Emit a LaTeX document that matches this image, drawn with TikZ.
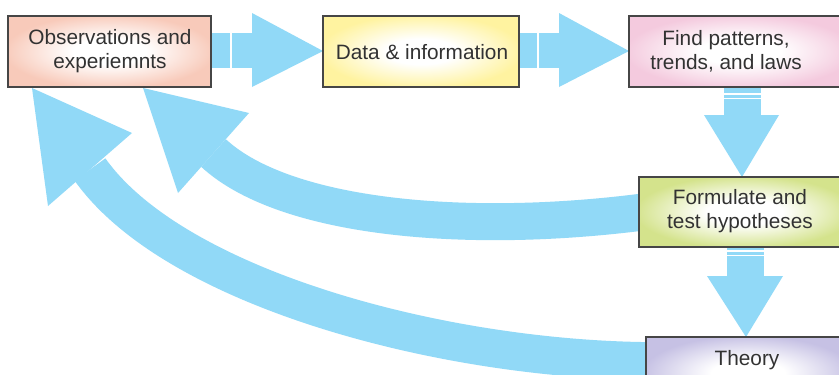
\documentclass[tikz,border=0pt]{standalone}
\usepackage{fontspec}
\setmainfont{Liberation Sans}
\definecolor{arrowblue}{RGB}{145,217,247}
\definecolor{boxline}{RGB}{70,70,70}
\definecolor{textgray}{RGB}{50,50,50}
\definecolor{cobs}{RGB}{248,202,186}
\definecolor{cdata}{RGB}{255,243,160}
\definecolor{cfind}{RGB}{244,202,222}
\definecolor{cform}{RGB}{212,227,140}
\definecolor{ctheory}{RGB}{198,193,228}
\colorlet{boxouter}{cobs}
\pgfdeclareradialshading[boxouter]{boxshade}{\pgfpoint{0bp}{0bp}}{color(0bp)=(white); color(9bp)=(white); color(26bp)=(boxouter); color(50bp)=(boxouter)}
\begin{document}
\begin{tikzpicture}[x=1pt,y=-1pt,
  box/.style={draw=boxline, line width=1.5pt, /utils/exec={\colorlet{boxouter}{#1}}, shading=boxshade, rectangle, inner sep=0pt},
  lbl/.style={font=\fontsize{20.8}{24}\selectfont, text=textgray, align=center, inner sep=0pt},
  band/.style={draw=arrowblue, line width=#1},
  headfill/.style={fill=arrowblue},
  shaftfill/.style={fill=arrowblue, draw=white, line width=0.8pt},
  gapline/.style={draw=white, line width=1.3pt}]
\clip (0,0) rectangle (839,375);
\fill[white] (0,0) rectangle (839,375);

% curved feedback arrows
\coordinate (formin) at (665,209);
\coordinate (theoryin) at (675,361);
\coordinate (innerbase) at (213.5,153);
\coordinate (outerbase) at (90,169.5);
\draw[band=37pt] (formin) .. controls (480,236) and (287,221) .. (innerbase);
\draw[band=38pt] (theoryin) .. controls (460,365) and (177,292) .. (outerbase);
\coordinate (innertip) at (143,88);
\coordinate (outertip) at (32,88);
\fill[headfill] (innertip) -- (178,193) -- (249,113) -- cycle;
\fill[headfill] (outertip) -- (48,206) -- (132,133) -- cycle;

% straight block arrows
\coordinate (tipA) at (323,51);
\coordinate (tipB) at (629,51);
\coordinate (tipC) at (742,177);
\coordinate (tipD) at (746,337);
\filldraw[shaftfill] (211,32) rectangle (253,68);
\draw[gapline] (231,32) -- (231,68);
\fill[headfill] (252,13) -- (252,87) -- (tipA) -- cycle;

\filldraw[shaftfill] (519,32) rectangle (560,68);
\draw[gapline] (538,32) -- (538,68);
\fill[headfill] (559,13) -- (559,87) -- (tipB) -- cycle;

\filldraw[shaftfill] (723,86) rectangle (761,116);
\draw[gapline] (723,94) -- (761,94);
\draw[gapline] (723,98.5) -- (761,98.5);
\fill[headfill] (704,115) -- (779,115) -- (tipC) -- cycle;

\filldraw[shaftfill] (726,246) rectangle (764,277);
\draw[gapline] (726,251) -- (764,251);
\draw[gapline] (726,255.5) -- (764,255.5);
\fill[headfill] (707,276) -- (783,276) -- (tipD) -- cycle;

% boxes
\node[box=cobs, minimum width=203pt, minimum height=71pt] (obs) at (109.5,51.5) {};
\node[box=cdata, minimum width=196pt, minimum height=71pt] (data) at (421,51.5) {};
\node[box=cfind, minimum width=221pt, minimum height=71pt] (find) at (739.5,51.5) {};
\node[box=cform, minimum width=211pt, minimum height=70pt] (form) at (744.5,212) {};
\node[box=ctheory, minimum width=204pt, minimum height=73pt] (theory) at (748,373.5) {};

% labels
\node[lbl] (obslbl) at (110,51) {Observations and\\experiemnts};
\node[lbl] (datalbl) at (422,52) {Data \& information};
\node[lbl] (findlbl) at (726,51) {Find patterns,\\trends, and laws};
\node[lbl] (formlbl) at (740,211) {Formulate and\\test hypotheses};
\node[lbl, anchor=base] (theorylbl) at (747,365) {Theory};
\end{tikzpicture}
\end{document}
